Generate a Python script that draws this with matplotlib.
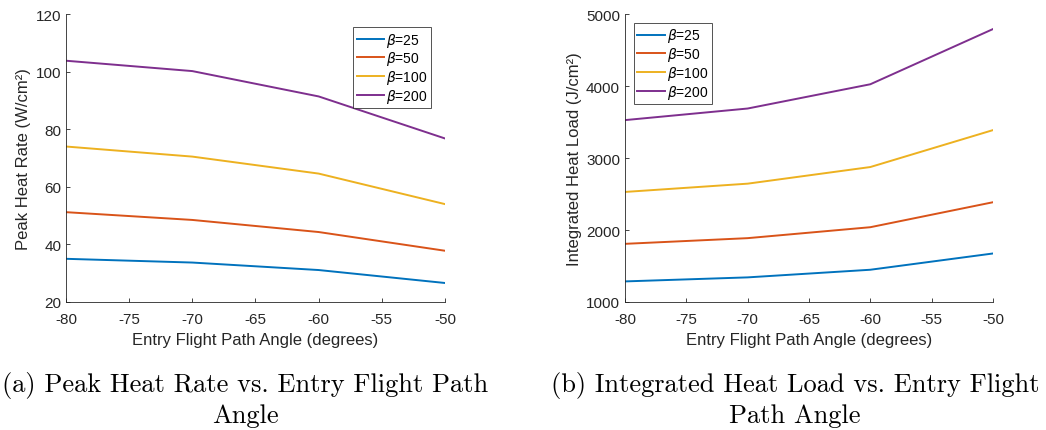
import numpy as np
import matplotlib
matplotlib.use("Agg")
import matplotlib.pyplot as plt

plt.rcParams["font.family"] = ["Liberation Sans", "DejaVu Sans"]
plt.rcParams["axes.unicode_minus"] = False

angles = [-80, -70, -60, -50]
betas = [25, 50, 100, 200]

# peak heat rate, W/cm^2
peak_b25 = [35.0, 33.7, 31.1, 26.6]
peak_b50 = [51.2, 48.5, 44.3, 37.8]
peak_b100 = [74.0, 70.5, 64.6, 54.0]
peak_b200 = [103.8, 100.2, 91.4, 76.8]

# integrated heat load, J/cm^2
load_b25 = [1286, 1342, 1448, 1674]
load_b50 = [1808, 1887, 2039, 2386]
load_b100 = [2529, 2644, 2875, 3388]
load_b200 = [3527, 3688, 4025, 4792]

colors = ["#0072BD", "#D95319", "#EDB120", "#7E2F8E"]
txt = "#262626"
axcol = "#262626"


def style_axes(ax):
    for s in ["top", "right"]:
        ax.spines[s].set_visible(False)
    for s in ["left", "bottom"]:
        ax.spines[s].set_color(axcol)
        ax.spines[s].set_linewidth(0.6)
    ax.tick_params(direction="in", length=3, width=0.6, colors=axcol,
                   labelsize=11, labelcolor=txt)
    ax.tick_params(axis="x", pad=7)
    ax.tick_params(axis="y", pad=3.5)
    ax.set_xlim(-80, -50)
    ax.set_xticks(np.arange(-80, -49, 5))
    ax.set_xlabel("Entry Flight Path Angle (degrees)", fontsize=12,
                  color=txt, labelpad=4.5)


def add_legend(ax, loc, anchor):
    leg = ax.legend(loc=loc, bbox_to_anchor=anchor, fontsize=10,
                    frameon=True, fancybox=False, handlelength=1.95,
                    handletextpad=0.15, borderpad=0.25, labelspacing=0.05,
                    borderaxespad=0)
    leg.get_frame().set_edgecolor(axcol)
    leg.get_frame().set_linewidth(0.7)


fig = plt.figure(figsize=(10.46, 4.31), dpi=100)

ax1 = fig.add_axes([0.0631, 0.297, 0.3623, 0.668])
for vals, b, c in zip([peak_b25, peak_b50, peak_b100, peak_b200], betas, colors):
    ax1.plot(angles, vals, color=c, lw=1.4, label=r"$\beta$=%d" % b)
ax1.set_ylim(20, 120)
ax1.set_yticks(np.arange(20, 121, 20))
ax1.set_ylabel("Peak Heat Rate (W/cm²)", fontsize=12, color=txt, labelpad=3)
style_axes(ax1)
add_legend(ax1, "upper right", (0.963, 0.955))

ax2 = fig.add_axes([0.5975, 0.297, 0.3518, 0.668])
for vals, b, c in zip([load_b25, load_b50, load_b100, load_b200], betas, colors):
    ax2.plot(angles, vals, color=c, lw=1.4, label=r"$\beta$=%d" % b)
ax2.set_ylim(1000, 5000)
ax2.set_yticks(np.arange(1000, 5001, 1000))
ax2.set_ylabel("Integrated Heat Load (J/cm²)", fontsize=12, color=txt,
               labelpad=3)
style_axes(ax2)
add_legend(ax2, "upper left", (0.0245, 0.969))

cap = dict(fontsize=19, family="cmr10", ha="center", va="baseline")
fig.text(0.2342, 0.0905, "(a) Peak Heat Rate vs. Entry Flight Path", **cap)
fig.text(0.2342, 0.0186, "Angle", **cap)
fig.text(0.7600, 0.0905, "(b) Integrated Heat Load vs. Entry Flight", **cap)
fig.text(0.7600, 0.0186, "Path Angle", **cap)

fig.savefig("out.png", dpi=100)
